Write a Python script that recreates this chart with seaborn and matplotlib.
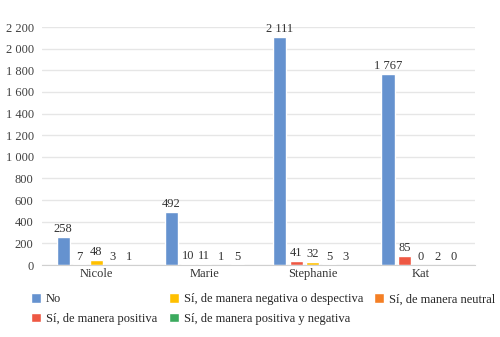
import matplotlib
matplotlib.use("Agg")
import matplotlib.pyplot as plt
import seaborn as sns
import pandas as pd

categories = ["Nicole", "Marie", "Stephanie", "Kat"]
series = ["No", "Sí, de manera positiva", "Sí, de manera negativa o despectiva",
          "Sí, de manera positiva y negativa", "Sí, de manera neutral"]
no_vals = [258, 492, 2111, 1767]
positiva = [7, 10, 41, 85]
negativa = [48, 11, 32, 0]
pos_neg = [3, 1, 5, 2]
neutral = [1, 5, 3, 0]
colors = ["#6592CF", "#EE5843", "#FFC000", "#3BAA5E", "#F47F25"]
yticks = [0, 200, 400, 600, 800, 1000, 1200, 1400, 1600, 1800, 2000, 2200]

rows = []
for s, vals in zip(series, [no_vals, positiva, negativa, pos_neg, neutral]):
    for c, v in zip(categories, vals):
        rows.append({"cat": c, "serie": s, "val": v})
df = pd.DataFrame(rows)

sns.set_style("white")
plt.rcParams["font.family"] = ["Liberation Serif", "DejaVu Serif"]

FS = 9
fig = plt.figure(figsize=(5, 3.37), dpi=100)
ax = fig.add_axes([0.084, 0.2136, 0.866, 0.706])
sns.barplot(data=df, x="cat", y="val", hue="serie", hue_order=series,
            order=categories, palette=colors, width=0.76, gap=0.2,
            saturation=1, ax=ax, legend=True)

def fmt(v):
    return f"{int(v):,}".replace(",", " ")

for cont in ax.containers:
    for bar in cont:
        h = bar.get_height()
        ax.text(bar.get_x() + bar.get_width() / 2, h + 15, fmt(h),
                ha="center", va="bottom", fontsize=FS, color="#333333")

ax.set_ylim(0, 2200)
ax.set_yticks(yticks)
ax.set_yticklabels([fmt(t) for t in yticks], fontsize=FS, color="#404040")
ax.tick_params(axis="x", labelsize=FS, colors="#333333", length=0, pad=2)
ax.tick_params(axis="y", length=0, pad=6)
ax.yaxis.grid(True, color="#E6E6E6", linewidth=1)
ax.set_axisbelow(True)
for side in ["left", "right", "top"]:
    ax.spines[side].set_visible(False)
ax.spines["bottom"].set_color("#D0D0D0")
ax.set_xlabel("")
ax.set_ylabel("")

handles, labels = ax.get_legend_handles_labels()
ax.legend_.remove()
fig.legend(handles, labels, ncol=3, loc="upper left", bbox_to_anchor=(0.062, 0.13),
           frameon=False, fontsize=FS, handlelength=0.8, handleheight=0.8,
           handletextpad=0.4, columnspacing=0.9, labelspacing=0.6,
           borderaxespad=0, borderpad=0)

fig.savefig("out.png", dpi=100)
